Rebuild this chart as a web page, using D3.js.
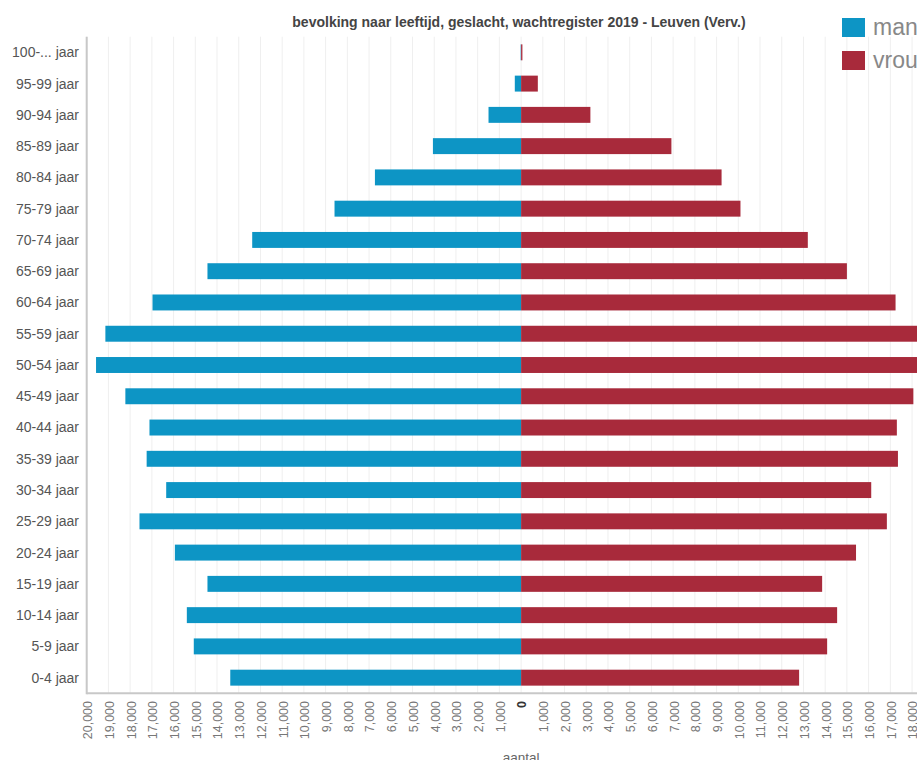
<!DOCTYPE html>
<html>
<head>
<meta charset="utf-8">
<script src="https://cdn.jsdelivr.net/npm/d3@7"></script>
<style>
  html, body { margin: 0; padding: 0; background: #fff; overflow: hidden; }
  svg { display: block; font-family: "Liberation Sans", Arial, sans-serif; }
</style>
</head>
<body>
<svg id="chart" width="917" height="760"></svg>
<script>
const categories = ["100-... jaar","95-99 jaar","90-94 jaar","85-89 jaar","80-84 jaar","75-79 jaar","70-74 jaar","65-69 jaar","60-64 jaar","55-59 jaar","50-54 jaar","45-49 jaar","40-44 jaar","35-39 jaar","30-34 jaar","25-29 jaar","20-24 jaar","15-19 jaar","10-14 jaar","5-9 jaar","0-4 jaar"];
const man   = [20, 290, 1500, 4060, 6730, 8590, 12380, 14440, 16970, 19140, 19570, 18220, 17110, 17240, 16340, 17570, 15940, 14440, 15390, 15070, 13390];
const vrouw = [60, 770, 3190, 6920, 9230, 10100, 13200, 15000, 17240, 19000, 19300, 18060, 17300, 17350, 16120, 16840, 15420, 13860, 14550, 14090, 12800];
const seriesNames = ["man", "vrouw"];
const gridValues = d3.range(-20000, 20001, 1000);
const tickValues = d3.range(-20000, 18001, 1000);
const chartTitle = "bevolking naar leeftijd, geslacht, wachtregister 2019 - Leuven (Verv.)";
const xTitle = "aantal";

(function () {
const colors = {man: "#0d95c5", vrouw: "#a82a3b"};
const svg = d3.select("#chart");
const pLeft = 86.7, pTop = 36.7, pBottom = 693.3;

const x = d3.scaleLinear().domain([-20000, 20000]).range([pLeft, pLeft + 40 * 21.72]);
const y = d3.scaleBand().domain(categories).range([pTop, pBottom]).paddingInner(0.49).paddingOuter(0.245);

// gridlines
svg.append("g").selectAll("line").data(gridValues).join("line")
  .attr("x1", d => x(d)).attr("x2", d => x(d))
  .attr("y1", pTop).attr("y2", pBottom)
  .attr("stroke", "#efefef").attr("stroke-width", 1);

// bars
svg.append("g").selectAll("rect").data(man).join("rect")
  .attr("x", d => x(-d)).attr("width", d => x(0) - x(-d))
  .attr("y", (d, i) => y(categories[i])).attr("height", y.bandwidth())
  .attr("fill", colors.man);
svg.append("g").selectAll("rect").data(vrouw).join("rect")
  .attr("x", x(0)).attr("width", d => x(d) - x(0))
  .attr("y", (d, i) => y(categories[i])).attr("height", y.bandwidth())
  .attr("fill", colors.vrouw);

// axis lines
svg.append("line").attr("x1", pLeft).attr("x2", pLeft).attr("y1", pTop).attr("y2", pBottom + 1)
  .attr("stroke", "#c8c8c8").attr("stroke-width", 2);
svg.append("line").attr("x1", pLeft).attr("x2", 960).attr("y1", pBottom).attr("y2", pBottom)
  .attr("stroke", "#c8c8c8").attr("stroke-width", 2);

// y labels
svg.append("g").selectAll("text").data(categories).join("text")
  .attr("x", 79).attr("y", d => y(d) + y.bandwidth() / 2)
  .attr("dy", "0.35em").attr("text-anchor", "end")
  .attr("font-size", "14px").attr("fill", "#555")
  .text(d => d);

// x tick labels
const fmt = d3.format(",");
svg.append("g").selectAll("text").data(tickValues).join("text")
  .attr("transform", d => `translate(${x(d) + 1},701) rotate(-90)`)
  .attr("dy", "0.35em").attr("text-anchor", "end")
  .attr("font-size", "12.5px")
  .attr("fill", d => d === 0 ? "#333" : "#777")
  .attr("font-weight", d => d === 0 ? "bold" : "normal")
  .text(d => fmt(Math.abs(d)));

// axis title
svg.append("text").attr("x", x(0)).attr("y", 762).attr("text-anchor", "middle")
  .attr("font-size", "13.5px").attr("fill", "#666").text(xTitle);

// title
svg.append("text").attr("x", 519).attr("y", 27).attr("text-anchor", "middle")
  .attr("font-size", "14px").attr("font-weight", "bold").attr("fill", "#444").text(chartTitle);

// legend
const lg = svg.append("g").selectAll("g").data(seriesNames).join("g")
  .attr("transform", (d, i) => `translate(842,${18 + i * 33})`);
lg.append("rect").attr("width", 23).attr("height", 19).attr("fill", d => colors[d]);
lg.append("text").attr("x", 31).attr("y", 17).attr("font-size", "23px").attr("fill", "#888").text(d => d);
})();
</script>
</body>
</html>
